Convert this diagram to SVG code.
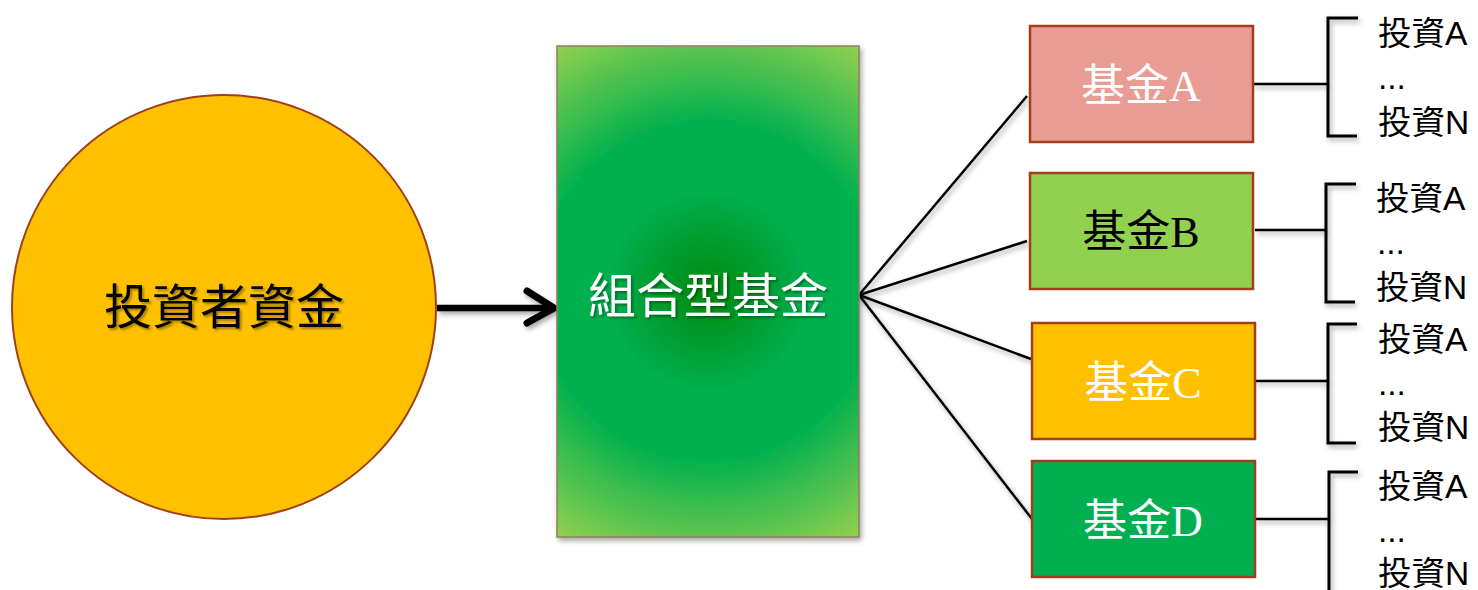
<svg xmlns="http://www.w3.org/2000/svg" width="1478" height="590" viewBox="0 0 1478 590">
<style>
.cjk{font-family:"Liberation Serif","Noto Sans CJK TC",serif;}
.lst{font-family:"Liberation Sans","Noto Sans CJK TC",sans-serif;font-size:33.5px;fill:#000;}
.fund{stroke:#A23F1A;stroke-width:2.5;}
.ln{stroke:#000;stroke-width:2.5;fill:none;}
.br{stroke:#000;stroke-width:3;fill:none;}
</style>
<defs>
<radialGradient id="gC" gradientUnits="userSpaceOnUse" cx="708" cy="291" r="288">
<stop offset="0" stop-color="#008A0F"/>
<stop offset="0.36" stop-color="#00B050"/>
<stop offset="0.58" stop-color="#00B050"/>
<stop offset="1" stop-color="#92D050"/>
</radialGradient>
<filter id="sh" x="-10%" y="-10%" width="130%" height="130%">
<feDropShadow dx="2" dy="3" stdDeviation="2.5" flood-color="#000" flood-opacity="0.35"/>
</filter>
<filter id="tsh" x="-10%" y="-20%" width="130%" height="150%">
<feDropShadow dx="2" dy="2" stdDeviation="1.2" flood-color="#000" flood-opacity="0.35"/>
</filter>
</defs>
<rect width="1478" height="590" fill="#fff"/>

<g id="connectors">
<g filter="url(#sh)">
<line x1="437" y1="308" x2="550" y2="308" stroke="#000" stroke-width="6.5"/>
<polyline points="527,291 554,308 527,323" stroke="#000" stroke-width="7" fill="none" stroke-linecap="round" stroke-linejoin="miter"/>
<line class="ln" x1="859" y1="295" x2="1027" y2="96"/>
<line class="ln" x1="859" y1="295" x2="1027" y2="241"/>
<line class="ln" x1="859" y1="295" x2="1031" y2="359"/>
<line class="ln" x1="859" y1="295" x2="1032" y2="519"/>
<line class="ln" x1="1253" y1="84" x2="1328" y2="84"/>
<line class="ln" x1="1255" y1="230" x2="1327" y2="230"/>
<line class="ln" x1="1255" y1="381" x2="1328" y2="381"/>
<line class="ln" x1="1255" y1="519" x2="1330" y2="519"/>
<polyline class="br" points="1358,18 1328,18 1328,136 1357,136"/>
<polyline class="br" points="1356,184 1326,184 1326,302 1355,302"/>
<polyline class="br" points="1357,324 1328,324 1328,443 1356,443"/>
<polyline class="br" points="1358,472 1329,472 1329,592"/>
</g>
</g>

<g id="investor">
<circle cx="224" cy="307" r="212" fill="#FFC000" stroke="#A0401A" stroke-width="2"/>
<text class="cjk" x="224" y="324" font-size="48" text-anchor="middle" fill="#000" filter="url(#tsh)">投資者資金</text>
</g>

<g id="fof">
<rect x="557" y="46" width="302" height="491" fill="url(#gC)" stroke="#8F7E5F" stroke-width="1.5" filter="url(#sh)"/>
<text class="cjk" x="708" y="313" font-size="48" text-anchor="middle" fill="#fff" filter="url(#tsh)">組合型基金</text>
</g>

<g id="fundA">
<rect class="fund" x="1030" y="26" width="223" height="116" fill="#E99C93"/>
<text class="cjk" x="1141" y="101" font-size="44" text-anchor="middle" fill="#fff">基金A</text>
</g>
<g id="fundB">
<rect class="fund" x="1030" y="173" width="223" height="116" fill="#92D050"/>
<text class="cjk" x="1141" y="247" font-size="44" text-anchor="middle" fill="#000">基金B</text>
</g>
<g id="fundC">
<rect class="fund" x="1032" y="323" width="223" height="116" fill="#FFC000"/>
<text class="cjk" x="1143" y="398" font-size="44" text-anchor="middle" fill="#fff">基金C</text>
</g>
<g id="fundD">
<rect class="fund" x="1032" y="461" width="223" height="116" fill="#00B050"/>
<text class="cjk" x="1143" y="536" font-size="44" text-anchor="middle" fill="#fff">基金D</text>
</g>

<g id="listA">
<text class="lst" x="1378" y="45">投資A</text>
<text class="lst" x="1378" y="89">...</text>
<text class="lst" x="1378" y="134">投資N</text>
</g>
<g id="listB">
<text class="lst" x="1376" y="210">投資A</text>
<text class="lst" x="1377" y="254">...</text>
<text class="lst" x="1376" y="299">投資N</text>
</g>
<g id="listC">
<text class="lst" x="1378" y="351">投資A</text>
<text class="lst" x="1378" y="395">...</text>
<text class="lst" x="1378" y="439">投資N</text>
</g>
<g id="listD">
<text class="lst" x="1378" y="498">投資A</text>
<text class="lst" x="1378" y="542">...</text>
<text class="lst" x="1378" y="585">投資N</text>
</g>
</svg>
